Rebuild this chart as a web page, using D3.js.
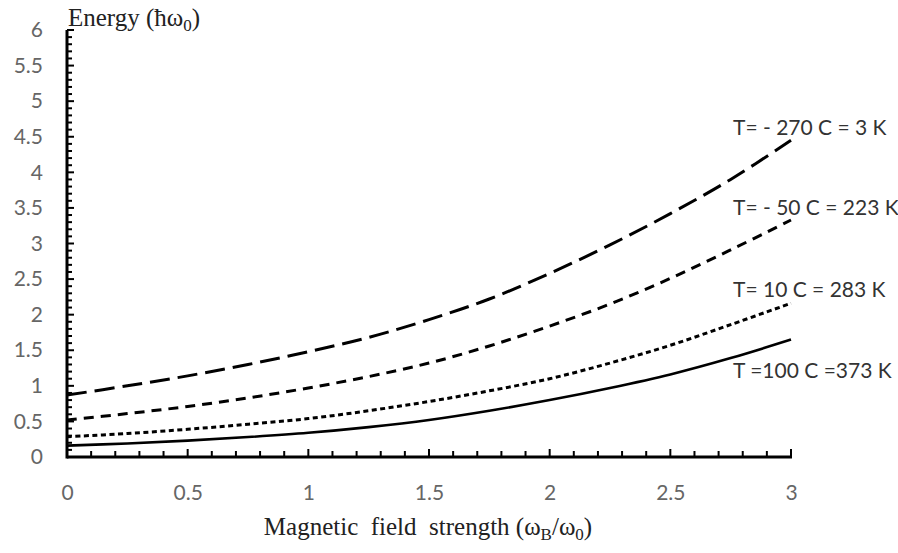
<!DOCTYPE html>
<html><head><meta charset="utf-8">
<script src="https://cdn.jsdelivr.net/npm/d3@7"></script>
<style>
html,body{margin:0;padding:0;background:#fff;}
svg{display:block;}
</style></head>
<body>
<svg id="c" width="898" height="553"></svg>
<script>
// ---- data ----
const fieldX = [0,0.25,0.5,0.75,1,1.25,1.5,1.75,2,2.25,2.5,2.75,3];
const energy3K   = [0.87,1.00,1.14,1.30,1.48,1.68,1.93,2.22,2.58,2.98,3.42,3.90,4.45];
const energy223K = [0.52,0.61,0.71,0.83,0.97,1.13,1.32,1.56,1.84,2.15,2.51,2.91,3.33];
const energy283K = [0.285,0.33,0.39,0.46,0.54,0.65,0.78,0.93,1.10,1.32,1.57,1.86,2.16];
const energy373K = [0.16,0.19,0.23,0.28,0.34,0.42,0.52,0.65,0.80,0.97,1.16,1.39,1.65];
const seriesLabels = ["T= - 270 C = 3 K","T= - 50 C = 223 K","T= 10 C = 283 K","T =100 C =373 K"];
const xTickValues = [0,0.5,1,1.5,2,2.5,3];
const yTickValues = [0,0.5,1,1.5,2,2.5,3,3.5,4,4.5,5,5.5,6];

// ---- layout ----
const svg = d3.select("#c");
const x = d3.scaleLinear().domain([0,3]).range([67,791]);
const y = d3.scaleLinear().domain([0,6]).range([457,30]);

// minor ticks every 0.1
const xMinor = d3.range(0,31).map(i=>i/10);
const yMinor = d3.range(0,61).map(i=>i/10);
const isMajor = v => Math.abs(v*2 - Math.round(v*2)) < 1e-6;

const g = svg.append("g");
g.selectAll("line.xm").data(xMinor).join("line")
  .attr("x1",d=>x(d)).attr("x2",d=>x(d))
  .attr("y1",y(0)).attr("y2",d=>y(0)-(isMajor(d)?8:6))
  .attr("stroke","#000").attr("stroke-width",2);
g.selectAll("line.ym").data(yMinor).join("line")
  .attr("y1",d=>y(d)).attr("y2",d=>y(d))
  .attr("x1",x(0)).attr("x2",d=>x(0)+(isMajor(d)?7:5))
  .attr("stroke","#000").attr("stroke-width",2);

// axis lines
g.append("line").attr("x1",x(0)).attr("x2",x(3)+1).attr("y1",y(0)).attr("y2",y(0))
  .attr("stroke","#000").attr("stroke-width",3);
g.append("line").attr("x1",x(0)).attr("x2",x(0)).attr("y1",y(0)+1.5).attr("y2",y(6))
  .attr("stroke","#000").attr("stroke-width",3);

// tick labels via d3 axes
const fmt = d => String(d);
const xAxis = svg.append("g").attr("transform",`translate(0,${y(0)})`)
  .call(d3.axisBottom(x).tickValues(xTickValues).tickFormat(fmt).tickSize(0).tickPadding(28));
const yAxis = svg.append("g").attr("transform",`translate(43,0)`)
  .call(d3.axisLeft(y).tickValues(yTickValues).tickFormat(fmt).tickSize(0).tickPadding(0));
[xAxis,yAxis].forEach(a=>{
  a.select(".domain").remove();
  a.selectAll("text").attr("font-family","Lato, 'Open Sans', sans-serif")
    .attr("font-size",21).attr("fill","#666");
});

// curves
const series = [energy3K, energy223K, energy283K, energy373K];
const dashes = ["20,8","10,7","5,3.5",null];
const line = d3.line().x(d=>x(d[0])).y(d=>y(d[1])).curve(d3.curveCatmullRom.alpha(0.5));
series.forEach((s,i)=>{
  const p = svg.append("path").datum(fieldX.map((xv,j)=>[xv,s[j]]))
    .attr("d",line).attr("fill","none").attr("stroke","#000")
    .attr("stroke-width",i===3?2.6:3);
  if(dashes[i]) p.attr("stroke-dasharray",dashes[i]);
});

// series labels
const labelBase = [135,215,297,378];
svg.selectAll("text.sl").data(seriesLabels).join("text")
  .attr("x",733).attr("y",(d,i)=>labelBase[i])
  .attr("font-family","Lato, 'Open Sans', sans-serif").attr("font-size",21)
  .attr("fill","#333").style("white-space","pre").text(d=>d);

// axis titles
const yt = svg.append("text").attr("x",68).attr("y",26)
  .attr("font-family","'Liberation Serif', 'Times New Roman', serif").attr("font-size",25).attr("fill","#222");
yt.append("tspan").text("Energy (ħω");
yt.append("tspan").attr("font-size",17).attr("dy",5).text("0");
yt.append("tspan").attr("dy",-5).text(")");

const xt = svg.append("text").attr("x",428).attr("y",535).attr("text-anchor","middle")
  .attr("font-family","'Liberation Serif', 'Times New Roman', serif").attr("font-size",25).attr("fill","#222")
  .style("white-space","pre");
xt.append("tspan").text("Magnetic  field  strength (ω");
xt.append("tspan").attr("font-size",17).attr("dy",5).text("B");
xt.append("tspan").attr("dy",-5).text("/ω");
xt.append("tspan").attr("font-size",17).attr("dy",5).text("0");
xt.append("tspan").attr("dy",-5).text(")");
</script>
</body></html>
